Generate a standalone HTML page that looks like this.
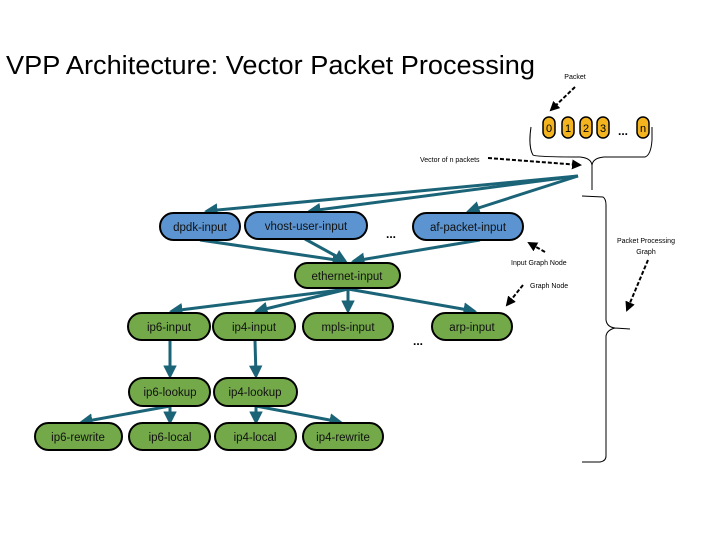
<!DOCTYPE html>
<html><head><meta charset="utf-8"><style>
html,body{margin:0;padding:0;background:#fff;}
svg{display:block;font-family:"Liberation Sans","DejaVu Sans",sans-serif;}
</style></head><body>
<svg width="720" height="540" viewBox="0 0 720 540" xmlns="http://www.w3.org/2000/svg">
<defs>
<marker id="a" markerWidth="4.5" markerHeight="4.5" refX="3.5" refY="2.25" orient="auto" markerUnits="strokeWidth"><path d="M0,0 L4.5,2.25 L0,4.5 z" fill="#1b6478"/></marker>
<marker id="d" markerWidth="5" markerHeight="5" refX="4" refY="2.5" orient="auto" markerUnits="strokeWidth"><path d="M0,0 L5,2.5 L0,5 z" fill="#000"/></marker>
</defs>
<text x="6" y="74" font-size="25.5" textLength="529" lengthAdjust="spacingAndGlyphs">VPP Architecture: Vector Packet Processing</text>

<g fill="#f3b420" stroke="#000" stroke-width="1.5">
<rect x="543" y="117" width="12" height="21" rx="6"/>
<rect x="562" y="117" width="12" height="21" rx="6"/>
<rect x="580" y="117" width="12" height="21" rx="6"/>
<rect x="597" y="117" width="12" height="21" rx="6"/>
<rect x="637" y="117" width="12" height="21" rx="6"/>
</g>
<g font-size="11" text-anchor="middle" fill="#000">
<text x="549" y="132">0</text><text x="568" y="132">1</text><text x="586" y="132">2</text><text x="603" y="132">3</text><text x="643" y="132">n</text>
</g>
<text x="623" y="135" font-size="12" font-weight="bold" text-anchor="middle">...</text>
<text x="575" y="79" font-size="7" text-anchor="middle">Packet</text>
<line x1="575" y1="87" x2="551" y2="110" stroke="#000" stroke-width="2" stroke-dasharray="4,2" marker-end="url(#d)"/>

<path d="M531,127 C529,140 530,150 533,155 Q536,157 580,157 Q591,158 592,165 L592,190 M592,165 Q593,158 604,157 L645,157 Q651,155 652,140 L652,127" fill="none" stroke="#000" stroke-width="1"/>
<text x="420" y="162" font-size="7">Vector of n packets</text>
<line x1="488" y1="158" x2="580" y2="165" stroke="#000" stroke-width="2" stroke-dasharray="4,2" marker-end="url(#d)"/>

<path d="M582,196 L603,197 Q606,199 606,205 L606,320 Q607,327 615,328 L630,329 M615,328 Q607,330 606,336 L606,456 Q606,461 600,462 L582,462" fill="none" stroke="#000" stroke-width="1"/>
<text x="646" y="243" font-size="7" text-anchor="middle">Packet Processing</text>
<text x="646" y="254" font-size="7" text-anchor="middle">Graph</text>
<line x1="648" y1="260" x2="627" y2="310" stroke="#000" stroke-width="2" stroke-dasharray="4,2" marker-end="url(#d)"/>
<text x="511" y="265" font-size="7">Input Graph Node</text>
<line x1="545" y1="252" x2="529" y2="243" stroke="#000" stroke-width="2" stroke-dasharray="4,2" marker-end="url(#d)"/>
<text x="530" y="288" font-size="7">Graph Node</text>
<line x1="523" y1="285" x2="507" y2="305" stroke="#000" stroke-width="2" stroke-dasharray="4,2" marker-end="url(#d)"/>

<g stroke="#1b6478" stroke-width="3" fill="none" marker-end="url(#a)">
<line x1="578" y1="176" x2="207" y2="211"/>
<line x1="578" y1="176" x2="310" y2="211"/>
<line x1="578" y1="176" x2="469" y2="211"/>
<line x1="200" y1="240" x2="343" y2="261"/>
<line x1="305" y1="239" x2="345" y2="261"/>
<line x1="480" y1="240" x2="354" y2="261"/>
<line x1="348" y1="289" x2="172" y2="311"/>
<line x1="348" y1="289" x2="257" y2="311"/>
<line x1="348" y1="289" x2="348" y2="311"/>
<line x1="348" y1="289" x2="474" y2="311"/>
<line x1="170" y1="341" x2="170" y2="376"/>
<line x1="255" y1="341" x2="256" y2="376"/>
<line x1="170" y1="406" x2="82" y2="422"/>
<line x1="170" y1="406" x2="170" y2="422"/>
<line x1="256" y1="406" x2="256" y2="422"/>
<line x1="256" y1="406" x2="340" y2="422"/>
</g>

<g stroke="#000" stroke-width="2">
<g fill="#5b94d0">
<rect x="160" y="213" width="80" height="27" rx="13.5"/>
<rect x="245" y="212" width="122" height="27" rx="13.5"/>
<rect x="413" y="213" width="110" height="27" rx="13.5"/>
</g>
<g fill="#74a94a">
<rect x="295" y="263" width="105" height="25" rx="12.5"/>
<rect x="128" y="313" width="82" height="27" rx="13.5"/>
<rect x="213" y="313" width="82" height="27" rx="13.5"/>
<rect x="303" y="313" width="90" height="27" rx="13.5"/>
<rect x="432" y="313" width="80" height="27" rx="13.5"/>
<rect x="129" y="378" width="81" height="28" rx="14"/>
<rect x="214" y="378" width="83" height="28" rx="14"/>
<rect x="35" y="423" width="87" height="27" rx="13.5"/>
<rect x="129" y="423" width="81" height="27" rx="13.5"/>
<rect x="215" y="423" width="81" height="27" rx="13.5"/>
<rect x="303" y="423" width="80" height="27" rx="13.5"/>
</g>
</g>
<g font-size="11.5" text-anchor="middle" fill="#111">
<text x="200" y="231">dpdk-input</text>
<text x="306" y="230">vhost-user-input</text>
<text x="468" y="231">af-packet-input</text>
<text x="347" y="280">ethernet-input</text>
<text x="169" y="331">ip6-input</text>
<text x="254" y="331">ip4-input</text>
<text x="348" y="331">mpls-input</text>
<text x="472" y="331">arp-input</text>
<text x="170" y="396">ip6-lookup</text>
<text x="255" y="396">ip4-lookup</text>
<text x="78" y="441">ip6-rewrite</text>
<text x="170" y="441">ip6-local</text>
<text x="255" y="441">ip4-local</text>
<text x="343" y="441">ip4-rewrite</text>
</g>
<text x="391" y="238" font-size="12" font-weight="bold" text-anchor="middle">...</text>
<text x="418" y="345" font-size="12" font-weight="bold" text-anchor="middle">...</text>
</svg>
</body></html>
